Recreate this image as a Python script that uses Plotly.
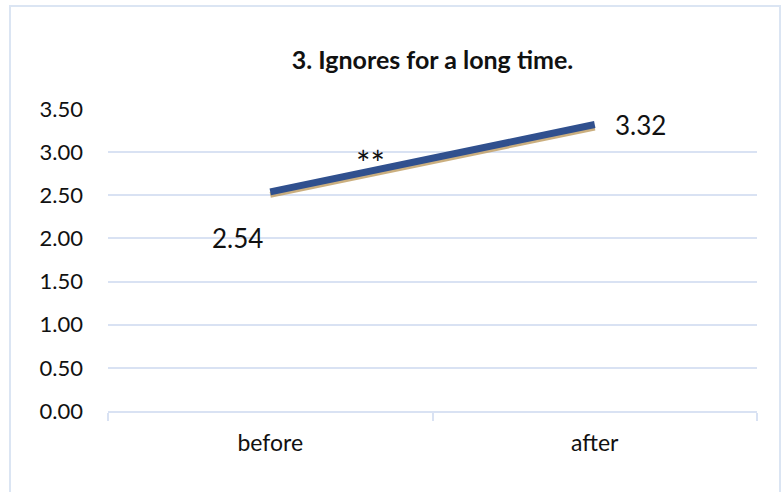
import plotly.graph_objects as go

# Mean score before and after
categories = ["before", "after"]
scores = [2.54, 3.32]
score_labels = ["2.54", "3.32"]
title_text = "3. Ignores for a long time."
y_ticks = [0, 0.5, 1.0, 1.5, 2.0, 2.5, 3.0, 3.5]
significance = "**"

W, H = 782, 492
L, R, T, B = 108, 25, 109, 81
plot_w = W - L - R
plot_h = H - T - B

grid_col = "#d9e2f3"
line_col = "#30508e"
shadow_col = "rgba(190,155,95,0.8)"
font_fam = "Lato, Open Sans, sans-serif"

fig = go.Figure()

# soft drop shadow: same data on the base axis, whose range is nudged so the
# line sits a few pixels lower
fig.add_trace(go.Scatter(
    x=categories, y=scores, mode="lines", yaxis="y",
    line=dict(color=shadow_col, width=6), hoverinfo="skip", showlegend=False,
))
# main series on the overlay axis that carries the ticks and grid
fig.add_trace(go.Scatter(
    x=categories, y=scores, mode="lines", yaxis="y2",
    line=dict(color=line_col, width=7), showlegend=False,
))

# data labels
lbl_font = dict(size=26, color="#111", family=font_fam)
fig.add_annotation(x=categories[0], y=scores[0], text=score_labels[0],
                   yref="y2", showarrow=False, xshift=-33, yshift=-46,
                   font=lbl_font)
fig.add_annotation(x=categories[1], y=scores[1], text=score_labels[1],
                   yref="y2", showarrow=False, xshift=46, yshift=0,
                   font=lbl_font)
fig.add_annotation(x=0.31, y=2.88, yref="y2", text=significance,
                   showarrow=False,
                   font=dict(size=34, color="#111", family=font_fam))

# outer chart frame
def px_x(p):
    return (p - L) / plot_w

def px_y(p):
    return (H - B - p) / plot_h

fig.add_shape(type="rect", xref="paper", yref="paper",
              x0=px_x(10), x1=px_x(780), y0=px_y(497), y1=px_y(6),
              line=dict(color="#dbe5f3", width=2), fillcolor="rgba(0,0,0,0)",
              layer="below")

shift = 3.0 / plot_h * 3.5
fig.update_layout(
    width=W, height=H,
    margin=dict(l=L, r=R, t=T, b=B),
    paper_bgcolor="white", plot_bgcolor="white",
    title=dict(text="<b>" + title_text + "</b>", x=0.5, xref="paper",
               y=1 - 60 / H, yanchor="middle",
               font=dict(size=25, color="#111", family=font_fam)),
    xaxis=dict(
        type="category", range=[-0.5, 1.5], showgrid=False,
        showline=True, linecolor=grid_col, linewidth=2,
        ticks="outside", tickson="boundaries", ticklen=8, tickcolor=grid_col,
        tickwidth=2,
        tickfont=dict(size=23, color="#111", family=font_fam),
        ticklabelstandoff=10,
    ),
    yaxis=dict(
        range=[0 + shift, 3.5 + shift], showgrid=False, zeroline=False,
        showline=False, showticklabels=False, ticks="",
    ),
    yaxis2=dict(
        overlaying="y", side="left",
        range=[0, 3.5], tickvals=y_ticks, tickformat=".2f",
        showgrid=True, gridcolor=grid_col, gridwidth=2,
        zeroline=False, showline=False, ticks="",
        tickfont=dict(size=22, color="#111", family=font_fam),
        ticklabelstandoff=24,
    ),
)

fig.write_html("out.html")
